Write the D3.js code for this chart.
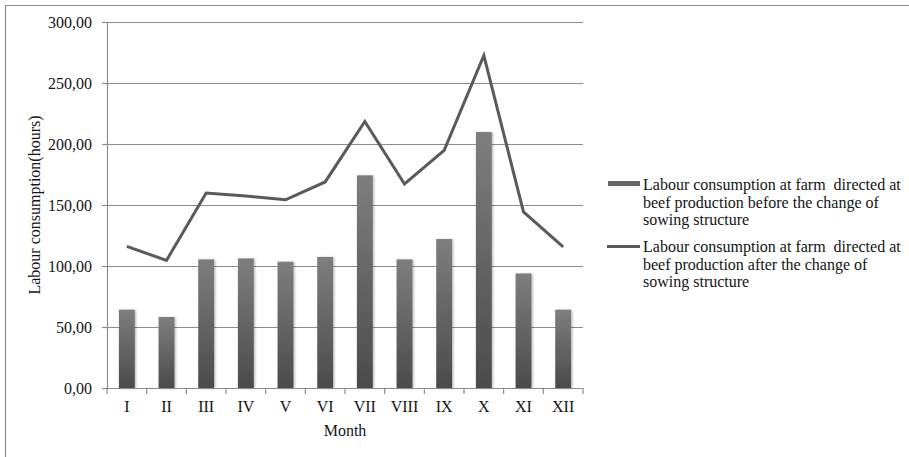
<!DOCTYPE html>
<html>
<head>
<meta charset="utf-8">
<script src="https://cdn.jsdelivr.net/npm/d3@7"></script>
<style>
  html, body { margin: 0; padding: 0; background: #fff; }
  svg { display: block; font-family: "Liberation Serif", "Times New Roman", serif; }
  text { white-space: pre; }
</style>
</head>
<body>
<svg id="chart" width="909" height="457"></svg>
<script>
// Monthly labour consumption (hours) for beef production
const months = ["I", "II", "III", "IV", "V", "VI", "VII", "VIII", "IX", "X", "XI", "XII"];
const beforeChange = [64.2, 58.2, 105.4, 106.2, 103.5, 107.4, 174.3, 105.4, 122.1, 209.8, 93.9, 64.2];
const afterChange = [116.1, 104.6, 159.8, 157.3, 154.3, 168.9, 218.5, 167.2, 194.8, 272.6, 144.3, 115.6];
const yTicks = [0, 50, 100, 150, 200, 250, 300];
const legendBefore = ["Labour consumption at farm  directed at", "beef production before the change of", "sowing structure"];
const legendAfter = ["Labour consumption at farm  directed at", "beef production after the change of", "sowing structure"];

const svg = d3.select("#chart");
const margin = { left: 107, top: 22, right: 583, bottom: 388 };
const fs = 16;
const ink = "#141414";

const x = d3.scaleBand().domain(months).range([margin.left, margin.right]).paddingInner(0.6).paddingOuter(0.3);
const xOuter = d3.scaleBand().domain(months).range([margin.left, margin.right]);
const y = d3.scaleLinear().domain([0, 300]).range([margin.bottom, margin.top]);
const fmt = v => d3.format(".2f")(v).replace(".", ",");

// Outer frame (top and left edges)
svg.append("path")
  .attr("d", "M5.5,457 V5.5 H909")
  .attr("fill", "none").attr("stroke", "#8a8a8a").attr("stroke-width", 1.2);

const defs = svg.append("defs");
const grad = defs.append("linearGradient").attr("id", "barGrad")
  .attr("x1", 0).attr("y1", 0).attr("x2", 0).attr("y2", 1);
grad.append("stop").attr("offset", "0%").attr("stop-color", "#7e7e7e");
grad.append("stop").attr("offset", "100%").attr("stop-color", "#4b4b4b");
const shadow = defs.append("filter").attr("id", "barShadow")
  .attr("x", "-30%").attr("y", "-10%").attr("width", "160%").attr("height", "120%");
shadow.append("feDropShadow").attr("dx", 1.2).attr("dy", 0.5).attr("stdDeviation", 0.8)
  .attr("flood-color", "#000").attr("flood-opacity", 0.3);

// Gridlines
svg.append("g").selectAll("line").data(yTicks.filter(d => d > 0)).join("line")
  .attr("x1", margin.left).attr("x2", margin.right)
  .attr("y1", d => y(d) + 0.5).attr("y2", d => y(d) + 0.5)
  .attr("stroke", "#8c8c8c").attr("stroke-width", 1.2);

// Y axis
const yAxis = svg.append("g").attr("transform", `translate(${margin.left},0)`)
  .call(d3.axisLeft(y).tickValues(yTicks).tickFormat(fmt).tickSize(5).tickPadding(10));
yAxis.select(".domain").attr("stroke", "#8c8c8c").attr("stroke-width", 1.2);
yAxis.selectAll(".tick line").attr("stroke", "#8c8c8c").attr("stroke-width", 1.2);
yAxis.selectAll(".tick text").attr("font-size", fs).attr("fill", ink)
  .attr("font-family", "Liberation Serif, serif");

// Bars
svg.append("g").selectAll("rect").data(months).join("rect")
  .attr("x", (d) => x(d))
  .attr("width", x.bandwidth())
  .attr("y", (d, i) => y(beforeChange[i]))
  .attr("height", (d, i) => y(0) - y(beforeChange[i]))
  .attr("fill", "url(#barGrad)")
  .attr("filter", "url(#barShadow)");

// X axis
const xAxisG = svg.append("g").attr("transform", `translate(0,${margin.bottom})`);
xAxisG.append("line").attr("x1", margin.left).attr("x2", margin.right)
  .attr("y1", 0.5).attr("y2", 0.5).attr("stroke", "#8c8c8c").attr("stroke-width", 1.2);
const bounds = months.map(m => xOuter(m)).concat([margin.right]);
xAxisG.selectAll("line.tk").data(bounds).join("line").attr("class", "tk")
  .attr("x1", d => d).attr("x2", d => d).attr("y1", 0).attr("y2", 6)
  .attr("stroke", "#8c8c8c").attr("stroke-width", 1.2);
xAxisG.selectAll("text").data(months).join("text")
  .attr("x", d => xOuter(d) + xOuter.bandwidth() / 2)
  .attr("y", 24)
  .attr("text-anchor", "middle").attr("font-size", fs).attr("fill", ink)
  .text(d => d);

// Line series
const line = d3.line()
  .x((d, i) => xOuter(months[i]) + xOuter.bandwidth() / 2)
  .y(d => y(d));
svg.append("path").datum(afterChange)
  .attr("d", line).attr("fill", "none")
  .attr("stroke", "#5a5a5a").attr("stroke-width", 3).attr("stroke-linejoin", "miter");

// Axis titles
svg.append("text").attr("x", 345).attr("y", 436)
  .attr("text-anchor", "middle").attr("font-size", fs).attr("fill", ink).text("Month");
svg.append("text")
  .attr("transform", `translate(40,${(margin.top + margin.bottom) / 2}) rotate(-90)`)
  .attr("text-anchor", "middle").attr("font-size", fs).attr("fill", ink)
  .text("Labour consumption(hours)");

// Legend
const legend = svg.append("g");
const lineH = 17.5;
legend.append("rect").attr("x", 608).attr("y", 181).attr("width", 32).attr("height", 5)
  .attr("fill", "#666");
legend.append("text").attr("x", 643).attr("y", 190).attr("font-size", fs).attr("fill", ink)
  .selectAll("tspan").data(legendBefore).join("tspan")
  .attr("x", 643).attr("dy", (d, i) => i === 0 ? 0 : lineH).text(d => d);
legend.append("line").attr("x1", 607).attr("x2", 640).attr("y1", 246.5).attr("y2", 246.5)
  .attr("stroke", "#5a5a5a").attr("stroke-width", 3);
legend.append("text").attr("x", 643).attr("y", 252).attr("font-size", fs).attr("fill", ink)
  .selectAll("tspan").data(legendAfter).join("tspan")
  .attr("x", 643).attr("dy", (d, i) => i === 0 ? 0 : lineH).text(d => d);
</script>
</body>
</html>
